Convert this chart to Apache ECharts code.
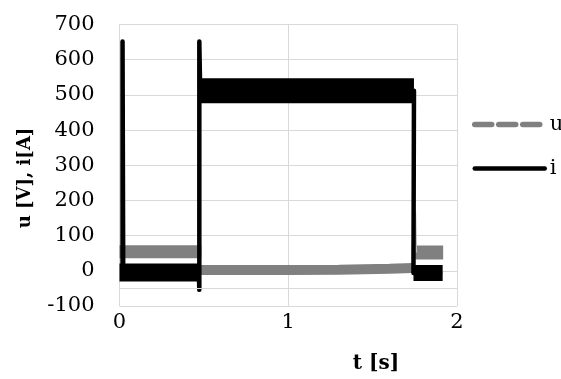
<!DOCTYPE html>
<html>
<head>
<meta charset="utf-8">
<script src="https://cdn.jsdelivr.net/npm/echarts@6/dist/echarts.min.js"></script>
<style>html,body{margin:0;padding:0;background:#fff}#c{width:561px;height:379px}</style>
</head>
<body>
<div id="c"></div>
<script>
// ---- data ----
var xTicks = [0, 1, 2];
var yTicks = [-100, 0, 100, 200, 300, 400, 500, 600, 700];
// u [V]: noisy bands (centre values)
var uBand1 = [[0, 54], [0.485, 54]];
var uBand2 = [[0.477, 2], [1.0, 2], [1.3, 3], [1.6, 6], [1.735, 8]];
var uBand3 = [[1.732, 52], [1.918, 52]];
var uSpike = [[1.745, 10], [1.752, 168], [1.758, 52]];
// i [A]: noisy bands (centre values)
var iBand1 = [[0, -5], [0.47, -5]];
var iBand2 = [[0.482, 512], [1.745, 512]];
var iBand3 = [[1.742, -6], [1.915, -6]];
// i [A]: main trace with spikes
var iTrace = [[0.018, -5], [0.018, 652], [0.022, -5], [0.47, -5], [0.473, -54],
              [0.473, 652], [0.478, 512], [1.745, 512], [1.742, -6], [1.9, -6]];
var extraGrid = -50;

var GRAY = '#808080';
var chart = echarts.init(document.getElementById('c'));
function band(data, color, width) {
  return { type: 'line', data: data, symbol: 'none', silent: true,
    lineStyle: { color: color, width: width, cap: 'butt' }, itemStyle: { color: color } };
}
var s1 = band(uBand1, GRAY, 13); s1.name = 'u';
s1.markLine = { silent: true, symbol: 'none', label: { show: false },
  lineStyle: { color: '#d9d9d9', width: 1, type: 'solid' }, data: [{ yAxis: extraGrid }] };
var sTrace = { type: 'line', name: 'i', data: iTrace, symbol: 'none', silent: true,
  lineStyle: { color: '#000', width: 4.5, cap: 'round', join: 'round' }, itemStyle: { color: '#000' } };

var noSym = { color: 'rgba(0,0,0,0)', borderColor: 'rgba(0,0,0,0)', borderWidth: 0 };
chart.setOption({
  animation: false,
  grid: { left: 119.5, right: 104, top: 24.5, bottom: 73 },
  xAxis: { type: 'value', min: xTicks[0], max: xTicks[xTicks.length - 1], interval: 1,
    axisLine: { show: false }, axisTick: { show: false },
    splitLine: { show: true, lineStyle: { color: '#d9d9d9', width: 1 } },
    axisLabel: { fontFamily: 'DejaVu Serif', fontSize: 21, color: '#000', margin: 6 } },
  yAxis: { type: 'value', min: yTicks[0], max: yTicks[yTicks.length - 1], interval: 100,
    axisLine: { show: false }, axisTick: { show: false },
    splitLine: { show: true, lineStyle: { color: '#d9d9d9', width: 1 } },
    axisLabel: { fontFamily: 'DejaVu Serif', fontSize: 21, color: '#000', margin: 25 } },
  legend: { orient: 'vertical', left: 467, top: 109, itemWidth: 70, itemHeight: 21, itemGap: 23,
    selectedMode: false,
    textStyle: { fontFamily: 'DejaVu Serif', fontSize: 21, color: '#000' },
    data: [
      { name: 'u', itemStyle: noSym, lineStyle: { color: GRAY, width: 5.5, type: [17, 7], cap: 'round' } },
      { name: 'i', itemStyle: noSym, lineStyle: { color: '#000', width: 4.5, type: 'solid', cap: 'round' } }
    ] },
  graphic: [
    { type: 'text', x: 25.5, y: 178, rotation: Math.PI / 2,
      style: { text: 'u [V], i[A]', font: 'bold 18px "DejaVu Serif"', fill: '#000', align: 'center', verticalAlign: 'middle' } },
    { type: 'text', x: 376, y: 364,
      style: { text: 't [s]', font: 'bold 20px "DejaVu Serif"', fill: '#000', align: 'center', verticalAlign: 'middle' } }
  ],
  series: [
    s1,
    band(uBand2, GRAY, 10),
    band(uBand3, GRAY, 14),
    { type: 'line', data: uSpike, symbol: 'none', silent: true, lineStyle: { color: '#b8b8b8', width: 2 } },
    band(iBand1, '#000', 18),
    band(iBand2, '#000', 25),
    band(iBand3, '#000', 16),
    sTrace
  ]
});
</script>
</body>
</html>
